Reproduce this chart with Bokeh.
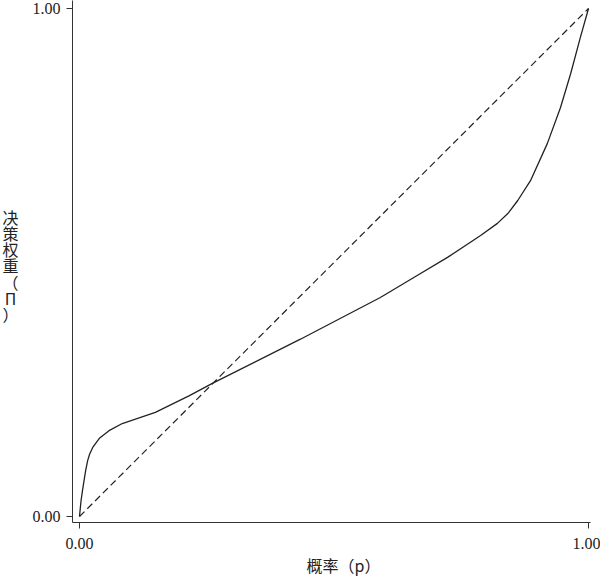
from bokeh.plotting import figure
from bokeh.models import Range1d, FixedTicker, NumeralTickFormatter, Label
from bokeh.embed import file_html
from bokeh.resources import INLINE

# probability p and decision weight pi(p)
prob = [0.0, 0.003, 0.006, 0.009, 0.012, 0.016, 0.020, 0.026, 0.039, 0.058, 0.084,
        0.149, 0.216, 0.261, 0.434, 0.591, 0.656, 0.723, 0.788, 0.821, 0.843,
        0.861, 0.886, 0.919, 0.945, 0.965, 0.984, 1.0]
weight = [0.0, 0.031, 0.052, 0.071, 0.090, 0.110, 0.123, 0.136, 0.154, 0.169, 0.183,
          0.205, 0.238, 0.262, 0.349, 0.431, 0.470, 0.510, 0.553, 0.577, 0.598,
          0.622, 0.661, 0.734, 0.805, 0.872, 0.943, 1.0]
diag_x = [0.0, 1.0]
diag_y = [0.0, 1.0]
ticks = [0.0, 1.0]

x_title = "概率（p）"
y_title = "决\n策\n权\n重\n（\nΠ\n）"

p = figure(width=600, height=576, output_backend="svg", toolbar_location=None,
           x_range=Range1d(-0.01375, 1.0039), y_range=Range1d(-0.0118, 1.0157),
           min_border_left=72, min_border_right=10, min_border_top=0, min_border_bottom=54)
p.outline_line_color = None
p.grid.visible = False
p.background_fill_color = "white"
p.border_fill_color = "white"

p.line(diag_x, diag_y, line_color="#222222", line_width=1.2, line_dash="7 4")
p.line(prob, weight, line_color="#222222", line_width=1.3)

for ax in (p.xaxis[0], p.yaxis[0]):
    ax.ticker = FixedTicker(ticks=ticks)
    ax.formatter = NumeralTickFormatter(format="0.00")
    ax.minor_tick_line_color = None
    ax.major_tick_in = 0
    ax.major_tick_out = 6
    ax.axis_line_color = "#333333"
    ax.major_tick_line_color = "#333333"
    ax.axis_line_width = 1
    ax.major_label_text_font = "Liberation Serif"
    ax.major_label_text_font_size = "16px"
    ax.major_label_text_color = "#222222"
p.xaxis[0].major_label_standoff = 9
p.yaxis[0].major_label_standoff = 6
p.yaxis[0].major_label_orientation = "horizontal"

cjk = "Noto Sans CJK SC"
p.add_layout(Label(x=271, y=11, x_units="screen", y_units="screen", text=x_title,
                   text_font=cjk, text_font_size="16px", text_color="#222222",
                   text_align="center", text_baseline="middle"), "below")
p.add_layout(Label(x=-3, y=257, x_units="screen", y_units="screen", text=y_title,
                   text_font=cjk, text_font_size="16px", text_color="#222222",
                   text_line_height=0.67,
                   text_align="center", text_baseline="middle"), "left")

open("out.html", "w").write(file_html(p, INLINE))
